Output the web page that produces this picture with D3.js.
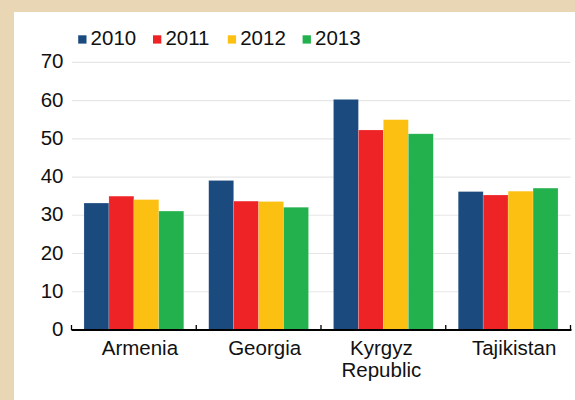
<!DOCTYPE html>
<html>
<head>
<meta charset="utf-8">
<script src="https://cdn.jsdelivr.net/npm/d3@7"></script>
<style>
  html, body { margin: 0; padding: 0; background: #fff; }
  svg { display: block; }
  text { font-family: "Liberation Sans", Arial, Helvetica, sans-serif; fill: #111; }
</style>
</head>
<body>
<svg id="chart" width="575" height="400"></svg>
<script>
// Country groups along the x axis (multi-line labels split on "\n")
const categories = ["Armenia", "Georgia", "Kyrgyz\nRepublic", "Tajikistan"];
// Years shown as series
const years = ["2010", "2011", "2012", "2013"];
// Values per year, in category order
const values2010 = [33.2, 39.1, 60.3, 36.2];
const values2011 = [35.0, 33.7, 52.3, 35.3];
const values2012 = [34.1, 33.6, 55.0, 36.3];
const values2013 = [31.1, 32.1, 51.3, 37.1];
const seriesValues = [values2010, values2011, values2012, values2013];
// Y axis ticks
const yTicks = [0, 10, 20, 30, 40, 50, 60, 70];

const colors = ["#1b4a7e", "#ee2326", "#fcc012", "#22b14c"];

const svg = d3.select("#chart");
const W = 575, H = 400;

// Page frame: beige band along top and left edges
svg.append("rect").attr("x", 0).attr("y", 0).attr("width", W).attr("height", H).attr("fill", "#e8d6b5");
svg.append("rect").attr("x", 14).attr("y", 12).attr("width", W - 14).attr("height", H - 12).attr("fill", "#fff");

const x0 = d3.scaleBand().domain(categories).range([71.5, 570.5]).paddingInner(0).paddingOuter(0);
const x1 = d3.scaleBand().domain(years).range([0, x0.bandwidth()]).paddingInner(0).paddingOuter(0.5);
const y = d3.scaleLinear().domain([0, 70]).range([330, 62.3]);

// Horizontal gridlines
svg.append("g").selectAll("line")
  .data(yTicks.filter(t => t > 0))
  .join("line")
  .attr("x1", 72).attr("x2", 570.5)
  .attr("y1", d => y(d)).attr("y2", d => y(d))
  .attr("stroke", "#e6e6e6").attr("stroke-width", 1.2);

// Y tick labels
svg.append("g").selectAll("text")
  .data(yTicks)
  .join("text")
  .attr("x", 63.5)
  .attr("y", d => y(d))
  .attr("dy", "0.3em")
  .attr("text-anchor", "end")
  .attr("font-size", "20.5px")
  .text(d => d);

// Bars
const rows = categories.map((c, i) => ({ cat: c, vals: years.map((yr, j) => ({ year: yr, v: seriesValues[j][i], j })) }));
const groups = svg.append("g").selectAll("g")
  .data(rows)
  .join("g")
  .attr("transform", d => `translate(${x0(d.cat)},0)`);
groups.selectAll("rect")
  .data(d => d.vals)
  .join("rect")
  .attr("x", d => x1(d.year))
  .attr("width", x1.bandwidth())
  .attr("y", d => y(d.v))
  .attr("height", d => y(0) - y(d.v))
  .attr("fill", d => colors[d.j])
  .attr("stroke", "#fff")
  .attr("stroke-opacity", 0.3)
  .attr("stroke-width", 0.6);

// X axis line with upward ticks at group boundaries
const [r0, r1] = x0.range();
svg.append("line")
  .attr("x1", r0).attr("x2", r1 + 1)
  .attr("y1", y(0)).attr("y2", y(0))
  .attr("stroke", "#000").attr("stroke-width", 2);
const boundaries = d3.range(categories.length + 1).map(i => r0 + i * x0.step());
svg.append("g").selectAll("line")
  .data(boundaries)
  .join("line")
  .attr("x1", d => d).attr("x2", d => d)
  .attr("y1", y(0) - 5).attr("y2", y(0))
  .attr("stroke", "#000").attr("stroke-width", 1.3);

// Category labels
const labels = svg.append("g").selectAll("text")
  .data(categories)
  .join("text")
  .attr("font-size", "20.5px")
  .attr("text-anchor", "middle")
  .attr("transform", d => {
    const lines = d.split("\n");
    const dx = lines.length > 1 ? -2 : 6;
    return `translate(${x0(d) + x0.bandwidth() / 2 + dx},355)`;
  });
labels.selectAll("tspan")
  .data(d => d.split("\n"))
  .join("tspan")
  .attr("x", 0)
  .attr("dy", (d, i) => i === 0 ? 0 : 22)
  .text(d => d);

// Legend
const legend = svg.append("g").selectAll("g")
  .data(years)
  .join("g")
  .attr("transform", (d, i) => `translate(${78.2 + i * 74.8},0)`);
legend.append("rect")
  .attr("x", 0).attr("y", 35.3)
  .attr("width", 8.3).attr("height", 8.3)
  .attr("fill", (d, i) => colors[i]);
legend.append("text")
  .attr("x", 12.4).attr("y", 45)
  .attr("font-size", "20.5px")
  .text(d => d);
</script>
</body>
</html>
